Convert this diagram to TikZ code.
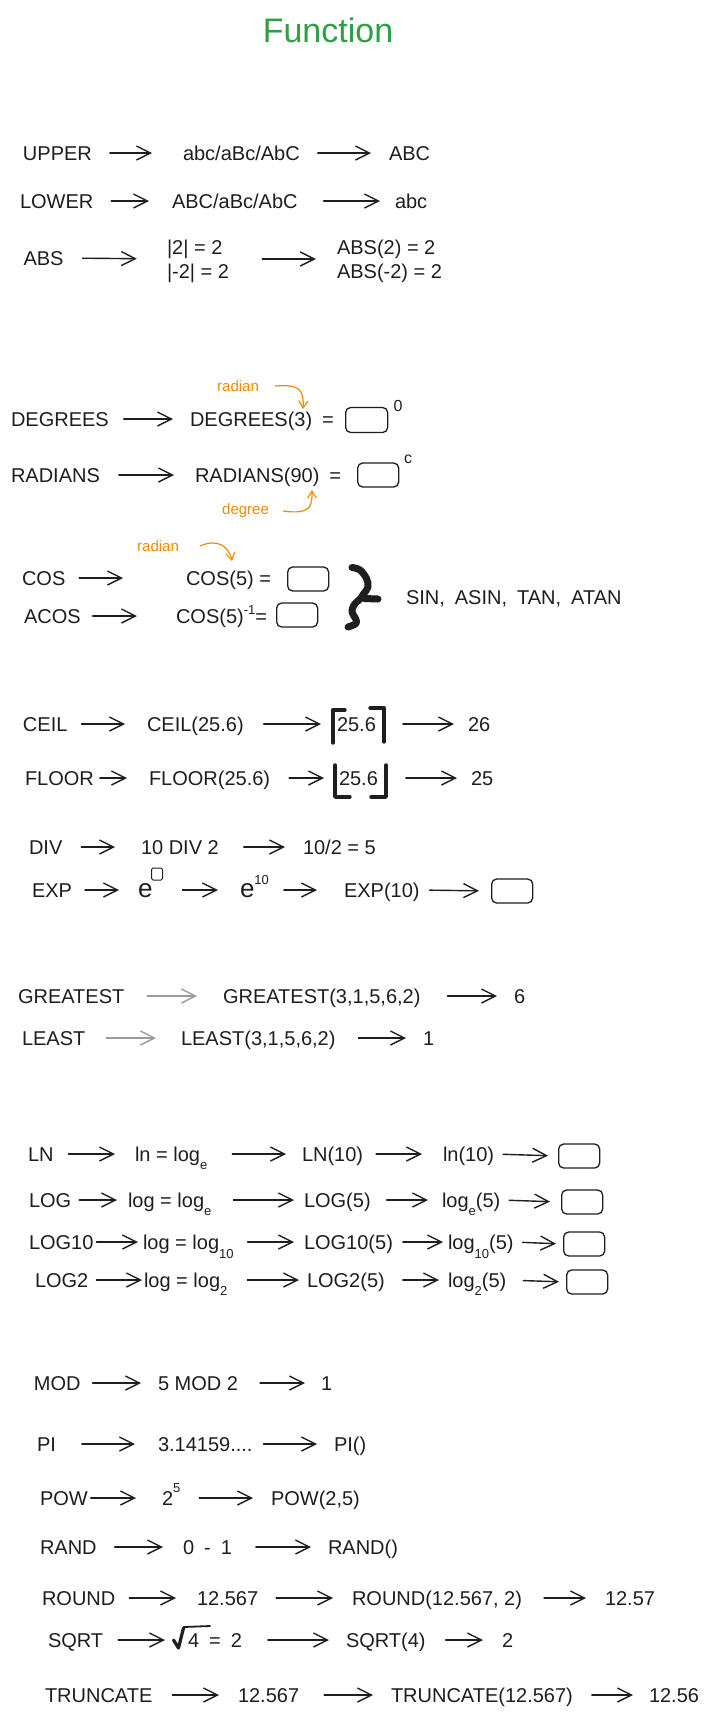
\documentclass[tikz,border=0pt]{standalone}
\usepackage{fontspec}
\setmainfont{Liberation Sans}
\usetikzlibrary{arrows.meta,fit}
\definecolor{ink}{HTML}{1E1E1E}
\definecolor{note}{HTML}{F08C00}
\definecolor{titlegreen}{HTML}{2F9E44}
\definecolor{lightarrow}{HTML}{9A9A9A}
\newcommand\subtx[2][-8pt]{\raisebox{#1}{\fontsize{13}{13}\selectfont #2}}
\newcommand\suptx[2][12pt]{\raisebox{#1}{\fontsize{13}{13}\selectfont #2}}
\newcommand\myconn[5][arr]{\draw[#1, shorten <=#4pt, shorten >=#5pt] (#2.east) -- (#3.west);}
\tikzset{
 txt/.style={anchor=west, inner sep=0pt, outer sep=0pt, text height=14pt, text depth=0pt, text=ink, font=\fontsize{20}{24}\selectfont},
 bigE/.style={txt, font=\fontsize{26}{30}\selectfont},
 arr/.style={draw=ink, line width=1.4pt, line cap=round, -{Straight Barb[length=14pt,width=14pt]}},
 garr/.style={arr, draw=lightarrow},
 ansbox/.style={draw=ink, line width=1.3pt, rounded corners=5pt, minimum width=41pt, minimum height=24pt, inner sep=0pt, anchor=west},
 notetxt/.style={anchor=west, inner sep=0pt, text=note, font=\fontsize{15}{18}\selectfont},
 notearr/.style={draw=note, line width=1.2pt, line cap=round, -{Straight Barb[length=7pt,width=9pt]}},
 supnode/.style={inner sep=0pt, text=ink, font=\fontsize{16}{18}\selectfont},
 bracket/.style={draw=ink, line width=3.4pt, line cap=round, line join=round},
 bracestroke/.style={draw=ink, line width=7pt, line cap=round, line join=round},
}
\begin{document}
\begin{tikzpicture}[x=1pt, y=-1pt]
\fill[white] (0,0) rectangle (706,1722);
\useasboundingbox (0,0) rectangle (706,1722);

\node[inner sep=0pt, text=titlegreen, font=\fontsize{34}{40}\selectfont] (title) at (328,30) {Function};

% UPPER
\node[txt] (up1) at (23,153) {UPPER};
\node[txt] (up2) at (183,153) {abc/aBc/AbC};
\node[txt] (up3) at (389,153) {ABC};
\myconn{up1}{up2}{18}{31}
\myconn{up2}{up3}{18}{18}

% LOWER
\node[txt] (lo1) at (20,201) {LOWER};
\node[txt] (lo2) at (172,201) {ABC/aBc/AbC};
\node[txt] (lo3) at (395,201) {abc};
\myconn{lo1}{lo2}{18}{23}
\myconn{lo2}{lo3}{26}{15}

% ABS
\node[txt] (ab1) at (23.5,258) {ABS};
\node[txt] (ab2a) at (167,247) {|2| = 2};
\node[txt] (ab2b) at (167,271) {|-2| = 2};
\node[txt] (ab3a) at (337,247) {ABS(2) = 2};
\node[txt] (ab3b) at (337,271) {ABS(-2) = 2};
\node[fit=(ab2a)(ab2b), inner sep=0pt] (ab2) {};
\node[fit=(ab3a)(ab3b), inner sep=0pt] (ab3) {};
\myconn{ab1}{ab2}{19}{30}
\myconn{ab2}{ab3}{33}{21}

% DEGREES
\node[txt] (dg1) at (11,419) {DEGREES};
\node[txt] (dg2) at (190,419) {DEGREES(3)\enspace=};
\myconn{dg1}{dg2}{15}{17}
\node[ansbox, minimum width=42pt, minimum height=25pt] (dgbox) at (345,420) {};
\node[supnode] (dgsup) at (398,406) {0};
\node[notetxt] (rad1) at (217,386) {radian};
\coordinate (dgtgt) at (303,409);
\draw[notearr] ([xshift=16pt]rad1.east) .. controls (300,384) and (304,390) .. (dgtgt);

% RADIANS
\node[txt] (rd1) at (11,475) {RADIANS};
\node[txt] (rd2) at (195,475) {RADIANS(90)\enspace=};
\myconn{rd1}{rd2}{19}{21}
\node[ansbox] (rdbox) at (357,475) {};
\node[supnode] (rdsup) at (408,459) {c};
\node[notetxt] (deg) at (222,511) {degree};
\coordinate (rdtgt) at (312,490);
\draw[notearr] ([xshift=14pt]deg.east) .. controls (312,515) and (312,505) .. (rdtgt);

% COS / ACOS
\node[notetxt] (rad2) at (137,546) {radian};
\coordinate (cstgt) at (232,561);
\draw[notearr] ([xshift=21pt]rad2.east) .. controls (218,538) and (229,547) .. (cstgt);
\node[txt] (cs1) at (22,578) {COS};
\node[txt] (cs2) at (186,578) {COS(5) =};
\myconn{cs1}{cs2}{14}{63}
\node[ansbox] (csbox) at (287,579) {};
\node[txt] (ac1) at (24,616) {ACOS};
\node[txt] (ac2) at (176,616) {COS(5)\suptx[9pt]{-1}=};
\myconn{ac1}{ac2}{12}{39}
\node[ansbox] (acbox) at (276,615) {};
\draw[bracestroke] plot[smooth, tension=0.6] coordinates {(352,567.5) (360,570) (366.5,578.5) (368,587) (363.5,594) (361,598) (354,605) (352,612) (355.5,618.5) (356,623.5) (348,627)};
\draw[bracestroke] (364,598.5) -- (378,599);
\node[txt] (sin) at (406,597) {SIN,\enspace ASIN,\enspace TAN,\enspace ATAN};

% CEIL
\node[txt] (ce1) at (23,724) {CEIL};
\node[txt] (ce2) at (147,724) {CEIL(25.6)};
\node[txt] (ce3) at (337,724) {25.6};
\node[txt] (ce4) at (468,724) {26};
\myconn{ce1}{ce2}{14}{22}
\myconn{ce2}{ce3}{20}{16}
\myconn{ce3}{ce4}{27}{14}
\draw[bracket] (345,710) -- (333,710) -- (333,743);
\draw[bracket] (370,708) -- (384,708) -- (384,742);

% FLOOR
\node[txt] (fl1) at (25,778) {FLOOR};
\node[txt] (fl2) at (149,778) {FLOOR(25.6)};
\node[txt] (fl3) at (339,778) {25.6};
\node[txt] (fl4) at (471,778) {25};
\myconn{fl1}{fl2}{6}{22}
\myconn{fl2}{fl3}{19}{15}
\myconn{fl3}{fl4}{28}{14}
\draw[bracket] (335,765) -- (335,797) -- (350,797);
\draw[bracket] (386,765) -- (386,797) -- (371,797);

% DIV
\node[txt] (dv1) at (29,847) {DIV};
\node[txt] (dv2) at (141,847) {10 DIV 2};
\node[txt] (dv3) at (303,847) {10/2 = 5};
\myconn{dv1}{dv2}{19}{26}
\myconn{dv2}{dv3}{25}{18}

% EXP
\node[txt] (ex1) at (32,890) {EXP};
\node[bigE] (ex2) at (138,890) {e};
\node[draw=ink, line width=1pt, rounded corners=1.5pt, minimum width=11pt, minimum height=12pt, inner sep=0pt] (eb) at (157,874) {};
\node[bigE] (ex3) at (240,890) {e\suptx[13pt]{10}};
\node[txt] (ex4) at (344,890) {EXP(10)};
\node[ansbox] (ex5) at (491,891) {};
\myconn{ex1}{ex2}{13}{19}
\myconn{ex2}{ex3}{30}{22}
\myconn{ex3}{ex4}{15}{27}
\myconn{ex4}{ex5}{10}{12}

% GREATEST / LEAST
\node[txt] (gr1) at (18,996) {GREATEST};
\node[txt] (gr2) at (223,996) {GREATEST(3,1,5,6,2)};
\node[txt] (gr3) at (514,996) {6};
\myconn[garr]{gr1}{gr2}{23}{26}
\myconn{gr2}{gr3}{27}{17}
\node[txt] (le1) at (22,1038) {LEAST};
\node[txt] (le2) at (181,1038) {LEAST(3,1,5,6,2)};
\node[txt] (le3) at (423,1038) {1};
\myconn[garr]{le1}{le2}{21}{25}
\myconn{le2}{le3}{23}{17}

% LN
\node[txt] (ln1) at (28,1154) {LN};
\node[txt] (ln2) at (135,1154) {ln = log\subtx{e}};
\node[txt] (ln3) at (302,1154) {LN(10)};
\node[txt] (ln4) at (443,1154) {ln(10)};
\node[ansbox] (ln5) at (558,1156) {};
\myconn{ln1}{ln2}{15}{20}
\myconn{ln2}{ln3}{25}{16}
\myconn{ln3}{ln4}{13}{21}
\myconn{ln4}{ln5}{9}{10}

% LOG
\node[txt] (lg1) at (29,1200) {LOG};
\node[txt] (lg2) at (128,1200) {log = log\subtx{e}};
\node[txt] (lg3) at (304,1200) {LOG(5)};
\node[txt] (lg4) at (442,1200) {log\subtx{e}(5)};
\node[ansbox] (lg5) at (561,1202) {};
\myconn{lg1}{lg2}{8}{11}
\myconn{lg2}{lg3}{22}{10}
\myconn{lg3}{lg4}{16}{14}
\myconn{lg4}{lg5}{9}{11}

% LOG10
\node[txt] (l10a) at (29,1242) {LOG10};
\node[txt] (l10b) at (143,1242) {log = log\subtx[-9pt]{10}};
\node[txt] (l10c) at (304,1242) {LOG10(5)};
\node[txt] (l10d) at (448,1242) {log\subtx[-9pt]{10}(5)};
\node[ansbox] (l10e) at (563,1244) {};
\myconn{l10a}{l10b}{3}{5}
\myconn{l10b}{l10c}{14}{10}
\myconn{l10c}{l10d}{10}{5}
\myconn{l10d}{l10e}{9}{7}

% LOG2
\node[txt] (l2a) at (35,1280) {LOG2};
\node[txt] (l2b) at (144,1280) {log = log\subtx{2}};
\node[txt] (l2c) at (307,1280) {LOG2(5)};
\node[txt] (l2d) at (448,1280) {log\subtx{2}(5)};
\node[ansbox] (l2e) at (566,1282) {};
\myconn{l2a}{l2b}{8}{2}
\myconn{l2b}{l2c}{20}{8}
\myconn{l2c}{l2d}{18}{9}
\myconn{l2d}{l2e}{17}{7}

% MOD
\node[txt] (md1) at (34,1383) {MOD};
\node[txt] (md2) at (158,1383) {5 MOD 2};
\node[txt] (md3) at (321,1383) {1};
\myconn{md1}{md2}{12}{17}
\myconn{md2}{md3}{22}{16}

% PI
\node[txt] (pi1) at (37,1444) {PI};
\node[txt] (pi2) at (158,1444) {3.14159....};
\node[txt] (pi3) at (334,1444) {PI()};
\myconn{pi1}{pi2}{26}{23}
\myconn{pi2}{pi3}{11}{17}

% POW
\node[txt] (pw1) at (40,1498) {POW};
\node[txt] (pw2) at (162,1498) {2\suptx[13pt]{5}};
\node[txt] (pw3) at (271,1498) {POW(2,5)};
\myconn{pw1}{pw2}{3}{26}
\myconn{pw2}{pw3}{19}{18}

% RAND
\node[txt] (ra1) at (40,1547) {RAND};
\node[txt] (ra2) at (183,1547) {0\enspace-\enspace1};
\node[txt] (ra3) at (328,1547) {RAND()};
\myconn{ra1}{ra2}{18}{20}
\myconn{ra2}{ra3}{24}{17}

% ROUND
\node[txt] (ro1) at (42,1598) {ROUND};
\node[txt] (ro2) at (197,1598) {12.567};
\node[txt] (ro3) at (352,1598) {ROUND(12.567, 2)};
\node[txt] (ro4) at (605,1598) {12.57};
\myconn{ro1}{ro2}{14}{21}
\myconn{ro2}{ro3}{18}{19}
\myconn{ro3}{ro4}{22}{19}

% SQRT
\node[txt] (sq1) at (48,1640) {SQRT};
\node[txt] (sq2) at (188,1640) {4\enspace=\enspace2};
\node[txt] (sq3) at (346,1640) {SQRT(4)};
\node[txt] (sq4) at (502,1640) {2};
\myconn{sq1}{sq2}{15}{23}
\myconn{sq2}{sq3}{26}{17}
\myconn{sq3}{sq4}{20}{19}
\draw[draw=ink, line width=3.2pt, line join=round, line cap=round] (173.5,1640) -- (178.5,1648) -- (183.5,1628);
\draw[draw=ink, line width=1.8pt, line cap=round] (183.5,1627) -- (210,1626);

% TRUNCATE
\node[txt] (tr1) at (45,1695) {TRUNCATE};
\node[txt] (tr2) at (238,1695) {12.567};
\node[txt] (tr3) at (391,1695) {TRUNCATE(12.567)};
\node[txt] (tr4) at (649,1695) {12.56};
\myconn{tr1}{tr2}{20}{19}
\myconn{tr2}{tr3}{25}{18}
\myconn{tr3}{tr4}{19}{16}
\end{tikzpicture}
\end{document}
